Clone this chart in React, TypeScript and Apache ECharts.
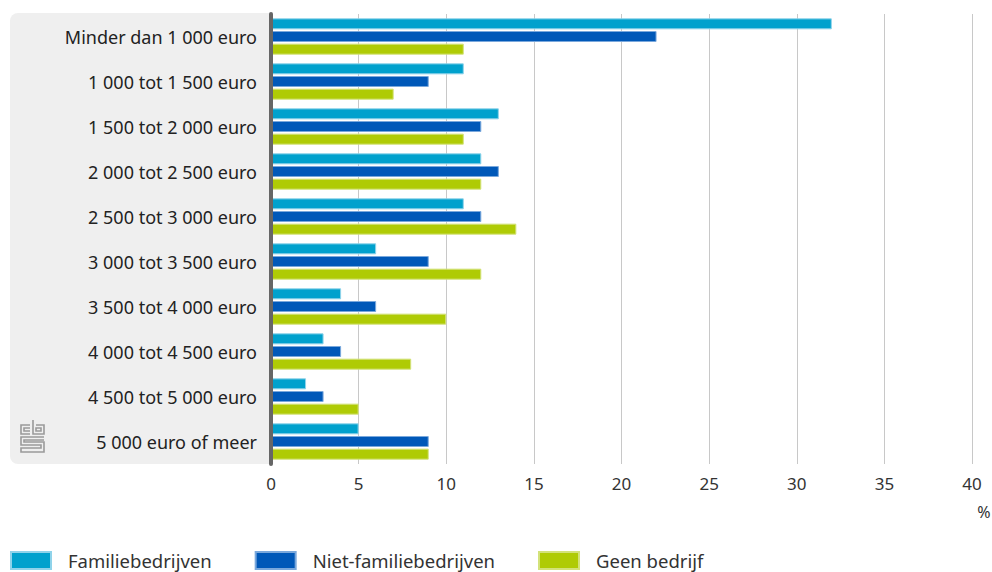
import React, { useEffect, useRef } from "react";
import * as echarts from "echarts";

const categories = [
  "Minder dan 1 000 euro",
  "1 000 tot 1 500 euro",
  "1 500 tot 2 000 euro",
  "2 000 tot 2 500 euro",
  "2 500 tot 3 000 euro",
  "3 000 tot 3 500 euro",
  "3 500 tot 4 000 euro",
  "4 000 tot 4 500 euro",
  "4 500 tot 5 000 euro",
  "5 000 euro of meer",
];
const familie = [32, 11, 13, 12, 11, 6, 4, 3, 2, 5];
const nietFamilie = [22, 9, 12, 13, 12, 9, 6, 4, 3, 9];
const geenBedrijf = [11, 7, 11, 12, 14, 12, 10, 8, 5, 9];
const seriesNames = ["Familiebedrijven", "Niet-familiebedrijven", "Geen bedrijf"];

const FONT = "'Noto Sans', sans-serif";

export default function App() {
  const ref = useRef<HTMLDivElement>(null);
  useEffect(() => {
    if (!ref.current) return;
    const chart = echarts.init(ref.current, null, { renderer: "svg" });
    const bar = (name: string, data: number[], color: string, border: string) => ({
      name,
      type: "bar",
      data,
      barWidth: 11,
      barGap: "15%",
      itemStyle: { color, borderColor: border, borderWidth: 1 },
      emphasis: { disabled: true },
    });
    chart.setOption({
      animation: false,
      textStyle: { fontFamily: FONT },
      grid: { left: 271, right: 20, top: 14, bottom: 108, containLabel: false },
      graphic: [
        {
          type: "rect",
          shape: { x: 10, y: 13, width: 260, height: 451, r: [8, 0, 0, 8] },
          style: { fill: "#efefef" },
          z: -10,
        },
        {
          type: "group",
          x: 20,
          y: 423,
          children: [
            { type: "polyline", shape: { points: [[10, 2], [1, 2], [1, 11], [10, 11]] }, style: { stroke: "#9a9a9a", lineWidth: 1.6, fill: "none" } },
            { type: "polyline", shape: { points: [[10, 5], [4, 5], [4, 8], [10, 8]] }, style: { stroke: "#9a9a9a", lineWidth: 1.6, fill: "none" } },
            { type: "polyline", shape: { points: [[13, -3], [13, 11], [24, 11], [24, 2], [16, 2]] }, style: { stroke: "#9a9a9a", lineWidth: 1.6, fill: "none" } },
            { type: "rect", shape: { x: 16, y: 5, width: 5, height: 3 }, style: { stroke: "#9a9a9a", lineWidth: 1.6, fill: "none" } },
            { type: "polyline", shape: { points: [[24, 14], [1, 14], [1, 22], [21, 22], [21, 25], [1, 25], [1, 29], [24, 29], [24, 19], [4, 19], [4, 17], [24, 17]] }, style: { stroke: "#9a9a9a", lineWidth: 1.6, fill: "none" } },
          ],
        },
        {
          type: "text",
          x: 984,
          y: 512,
          style: { text: "%", font: `16px ${FONT}`, fill: "#333", align: "center", verticalAlign: "middle" },
        },
      ],
      legend: {
        left: 10,
        top: 551,
        padding: 0,
        itemWidth: 40,
        itemHeight: 17,
        itemGap: 43,
        icon: "rect",
        selectedMode: false,
        data: seriesNames,
        textStyle: { fontSize: 18.5, color: "#333", fontFamily: FONT, padding: [0, 0, 0, 12] },
      },
      xAxis: {
        type: "value",
        min: 0,
        max: 40,
        interval: 5,
        axisLine: { show: false },
        axisTick: { show: false },
        splitLine: { show: true, lineStyle: { color: "#c8c8c8", width: 1 } },
        axisLabel: { fontSize: 17, color: "#333", margin: 11, fontFamily: FONT },
      },
      yAxis: {
        type: "category",
        inverse: true,
        data: categories,
        axisLine: { show: true, lineStyle: { color: "#666", width: 4 } },
        axisTick: { show: false },
        axisLabel: { fontSize: 18, color: "#222", margin: 14, fontFamily: FONT },
        z: 5,
      },
      series: [
        bar(seriesNames[0], familie, "#00a1cd", "#8fd3ea"),
        bar(seriesNames[1], nietFamilie, "#0058b8", "#7aa8dc"),
        bar(seriesNames[2], geenBedrijf, "#afcb05", "#d3e27a"),
      ],
    });
    return () => chart.dispose();
  }, []);
  return <div ref={ref} style={{ width: 992, height: 572, position: "absolute", left: 0, top: 0 }} />;
}
